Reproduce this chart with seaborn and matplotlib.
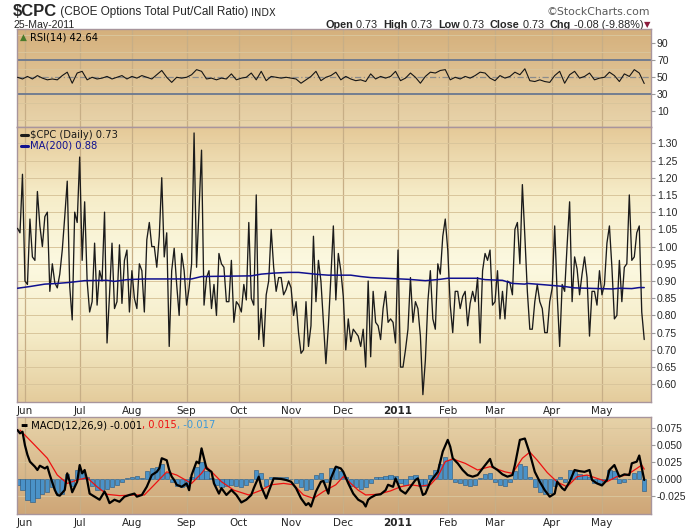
import numpy as np
import pandas as pd
import matplotlib
matplotlib.use("Agg")
import matplotlib.pyplot as plt
from matplotlib.colors import LinearSegmentedColormap
from matplotlib.ticker import FormatStrFormatter
import seaborn as sns

# ─────────────────────────────────────────────────────────────
# DATA (one value per trading day)
# ─────────────────────────────────────────────────────────────
cpc = [
    1.053, 1.04, 1.21, 0.90, 0.89, 1.08, 0.97, 0.96, 1.16, 1.06,
    1.00, 1.087, 1.10, 0.87, 0.95, 0.895, 0.88, 0.92, 0.99, 1.087,
    1.19, 0.884, 0.787, 1.10, 1.07, 1.26, 0.96, 1.13, 0.90, 0.81,
    0.84, 1.01, 0.83, 0.93, 0.90, 1.10, 0.72, 0.86, 1.01, 0.82,
    0.84, 1.005, 0.835, 0.96, 0.99, 0.81, 0.93, 0.85, 0.82, 0.95,
    0.93, 0.81, 1.02, 1.07, 1.00, 1.00, 0.94, 1.03, 1.20, 0.97,
    1.04, 0.71, 0.93, 0.995, 0.89, 0.80, 0.98, 0.93, 0.83, 0.88,
    0.95, 1.33, 0.94, 1.11, 1.28, 0.83, 0.91, 0.93, 0.82, 0.89,
    0.80, 0.98, 0.95, 0.94, 0.84, 0.84, 0.96, 0.78, 0.84, 0.83,
    0.81, 0.89, 0.845, 1.07, 0.85, 0.83, 1.15, 0.73, 0.82, 0.71,
    0.86, 0.90, 1.05, 0.94, 0.87, 0.91, 0.91, 0.86, 0.875, 0.90,
    0.88, 0.80, 0.84, 0.75, 0.69, 0.70, 0.84, 0.71, 0.77, 1.03,
    0.84, 0.96, 0.90, 0.78, 0.66, 0.77, 0.91, 1.06, 0.845, 0.98,
    0.93, 0.855, 0.70, 0.79,
    0.724, 0.76, 0.75, 0.74, 0.71, 0.76, 0.65, 0.90, 0.68, 0.87,
    0.78, 0.77, 0.73, 0.82, 0.87, 0.78, 0.79, 0.78, 0.72, 0.99,
    0.65, 0.65, 0.70, 0.76, 0.91, 0.78, 0.84, 0.82, 0.74, 0.57,
    0.67, 0.84, 0.93, 0.79, 0.76, 0.95, 0.92, 1.03, 1.08, 0.99,
    0.83, 0.75, 0.87, 0.87, 0.82, 0.855, 0.87, 0.77, 0.835, 0.87,
    0.84, 0.91, 0.72, 0.93, 0.98, 0.96, 0.99, 0.83, 0.84, 0.93,
    0.79, 0.87, 0.79, 0.90, 0.895, 0.86, 1.05, 1.07, 0.95, 1.18,
    1.03, 0.87, 0.76, 0.76, 0.84, 0.89, 0.84, 0.82, 0.75, 0.75,
    0.84, 0.88, 1.06, 0.86, 0.71, 0.89, 0.87, 1.005, 1.13, 0.84,
    0.97, 0.935, 0.86, 0.92, 0.97, 0.91, 0.74, 0.87, 0.87, 0.83,
    0.93, 0.86, 0.89, 1.01, 1.06, 0.94, 0.79, 0.80, 0.96, 0.84,
    0.94, 0.95, 1.15, 0.96, 0.97, 1.04, 1.06, 0.81, 0.73,
]

# 200-day moving average, sampled on these trading-day numbers
ma_day = [0, 5, 11, 16, 21, 27, 36, 39, 44, 51, 70, 74, 94, 98, 103, 109, 113,
          117, 121, 125, 134, 138, 142, 148, 157, 164, 170, 173, 185, 188, 195,
          199, 204, 205, 212, 220, 224, 239, 242, 247, 250, 252]
ma200 = [0.879, 0.884, 0.891, 0.893, 0.896, 0.901, 0.902, 0.899, 0.904, 0.906,
         0.906, 0.913, 0.915, 0.920, 0.923, 0.925, 0.925, 0.922, 0.919, 0.917,
         0.917, 0.913, 0.910, 0.908, 0.905, 0.901, 0.905, 0.908, 0.908, 0.904,
         0.902, 0.893, 0.891, 0.893, 0.889, 0.884, 0.880, 0.877, 0.879, 0.878,
         0.881, 0.881]

# RSI(14), every second trading day
rsi = [
    50, 48, 51, 48, 52, 49, 47, 48, 47, 52,
    56, 43, 55, 57, 47, 50, 48, 49, 51, 48,
    50, 52, 48, 51, 49, 52, 50, 48, 53, 58,
    50, 44, 50, 49, 50, 53, 59, 57, 48, 49,
    47, 49, 48, 54, 47, 49, 50, 55, 47, 57,
    46, 51, 50, 49, 50, 49, 48, 43, 47, 51,
    57, 46, 50, 52, 56, 47, 51, 48, 46, 47,
    45, 54, 48, 51, 49, 51, 57, 46, 49, 55,
    50, 43, 51, 56, 55, 58, 59, 47, 50, 48,
    51, 49, 52, 56, 55, 49, 46, 52, 49, 51,
    56, 53, 60, 46, 45, 47, 45, 44, 52, 57,
    43, 53, 57, 49, 51, 55, 47, 49, 50, 56,
    52, 45, 54, 51, 59, 55, 42.64,
]

# MACD(12,26,9) line and signal line, sampled on trading-day numbers
macd_day = [0, 1, 2, 3, 4, 5, 7, 8, 9, 11, 12, 13, 15, 16, 17, 19, 20, 21, 22,
            24, 25, 26, 27, 28, 29, 31, 33, 35, 36, 37, 39, 41, 43, 45, 47, 48,
            50, 52, 54, 56, 57, 58, 60, 61, 62, 63, 64, 66, 68, 69, 70, 72, 73,
            74, 75, 76, 78, 79, 81, 82, 84, 86, 88, 90, 92, 94, 95, 97, 98, 100,
            101, 103, 106, 108, 110, 112, 114, 116, 117, 118, 120, 122, 123, 125,
            126, 128, 130, 131, 133, 135, 137, 139, 140, 141, 142, 144, 146, 148,
            149, 151, 152, 154, 156, 158, 160, 161, 163, 164, 166, 167, 169, 171,
            173, 174, 175, 177, 179, 181, 183, 185, 187, 190, 191, 193, 195, 197,
            199, 200, 202, 204, 206, 208, 210, 212, 214, 216, 217, 219, 220, 222,
            224, 226, 228, 230, 231, 233, 235, 237, 238, 240, 242, 244, 246, 247,
            249, 250, 252]
macd = [0.0725, 0.0676, 0.070, 0.050, 0.036, 0.026, 0.0186, 0.0137, 0.020, 0.016,
        0.0186, 0.0063, -0.0157, -0.023, -0.024, -0.0157, 0.0088, -0.0035, -0.019,
        -0.0035, 0.021, 0.0088, 0.0137, -0.001, -0.021, -0.0255, -0.030, -0.018,
        -0.0255, -0.035, -0.030, -0.033, -0.0255, -0.023, -0.021, -0.0255, -0.023,
        -0.0108, 0.0063, 0.011, 0.016, 0.031, 0.028, 0.0137, 0.0039, -0.001, -0.008,
        -0.011, -0.006, -0.016, 0.0063, 0.026, 0.0235, 0.0455, 0.031, 0.016, 0.011,
        -0.006, -0.021, -0.013, -0.023, -0.0157, -0.023, -0.034, -0.030, -0.023,
        -0.013, 0.0039, -0.0108, -0.028, -0.018, 0.0014, 0.0005, -0.001, -0.0035,
        -0.013, -0.028, -0.038, -0.035, -0.040, -0.018, -0.0035, -0.0025, -0.021,
        0.0014, 0.0186, 0.016, 0.011, -0.006, -0.021, -0.030, -0.034, -0.040, -0.030,
        -0.027, -0.023, -0.022, -0.016, -0.008, -0.011, 0.0014, -0.016, -0.021,
        -0.011, -0.001, 0.0014, -0.023, -0.021, -0.0035, 0.0014, 0.011, 0.041, 0.058,
        0.048, 0.031, 0.0235, 0.0137, 0.0063, 0.0039, 0.0063, 0.016, 0.030, 0.0186,
        0.0137, 0.0073, 0.0039, 0.0063, 0.021, 0.058, 0.060, 0.038, 0.011, -0.0035,
        -0.016, -0.0255, -0.021, -0.0035, -0.013, -0.016, -0.0035, 0.0137, 0.012,
        0.011, 0.0137, -0.001, -0.006, -0.009, -0.001, 0.0137, 0.021, 0.0039, 0.0073,
        0.0063, 0.0235, 0.026, 0.035, -0.001]

signal_day = [1, 7, 12, 16, 20, 24, 28, 32, 36, 41, 47, 51, 55, 60, 64, 70, 74,
              76, 82, 87, 93, 98, 102, 107, 111, 115, 119, 123, 128, 131, 134,
              137, 140, 145, 150, 154, 158, 162, 166, 169, 172, 175, 180, 185,
              190, 196, 199, 203, 206, 209, 213, 217, 221, 225, 229, 233, 237,
              241, 245, 249, 251, 252]
signal = [0.0725, 0.050, 0.031, 0.0063, -0.006, -0.001, 0.0024, -0.011, -0.022,
          -0.024, -0.023, -0.023, -0.008, 0.011, 0.0063, -0.006, 0.0088, 0.0186,
          -0.0035, -0.016, -0.023, -0.016, -0.008, -0.006, -0.008, -0.023, -0.028,
          -0.018, -0.008, 0.004, -0.006, -0.016, -0.023, -0.022, -0.017, -0.011,
          -0.008, -0.010, -0.008, 0.004, 0.026, 0.030, 0.0235, 0.0137, 0.0186,
          0.011, 0.0088, 0.031, 0.040, 0.028, 0.010, -0.004, -0.011, 0.0039,
          0.0063, 0.0014, -0.0035, 0.0039, 0.0063, 0.016, 0.021, 0.015]

# MACD histogram, every second trading day
hist = [
    -0.008, -0.015, -0.030, -0.033, -0.027, -0.022, -0.018, -0.012, -0.020, -0.022,
    0.008, -0.010, 0.014, 0.012, 0.004, -0.010, -0.015, -0.016, -0.014, -0.012,
    -0.008, -0.004, 0.002, 0.004, 0.005, 0.002, 0.012, 0.016, 0.018, 0.022,
    0.010, -0.004, -0.010, -0.012, -0.010, 0.004, 0.018, 0.026, 0.012, 0.002,
    -0.008, -0.012, -0.010, -0.008, -0.010, -0.012, -0.008, -0.004, 0.014, 0.010,
    -0.010, 0.004, 0.003, 0.004, 0.003, 0.001, -0.006, -0.012, -0.016, -0.014,
    0.006, 0.010, -0.004, 0.016, 0.018, 0.012, 0.004, -0.010, -0.012, -0.014,
    -0.012, -0.006, 0.003, 0.004, 0.005, 0.006, 0.005, -0.006, -0.008, 0.005,
    0.006, -0.010, -0.010, 0.006, 0.014, 0.022, 0.033, 0.028, -0.004, -0.006,
    -0.008, -0.010, -0.008, 0.002, 0.008, 0.010, -0.004, -0.008, -0.010, -0.004,
    0.012, 0.022, 0.020, 0.004, -0.012, -0.018, -0.022, -0.020, -0.010, 0.003,
    -0.004, 0.014, 0.012, 0.008, 0.007, 0.004, -0.006, -0.006, -0.003, 0.014,
    0.012, -0.006, -0.004, 0.001, 0.010, 0.012, -0.017,
]

holidays = ["2010-05-31", "2010-07-05", "2010-09-06", "2010-11-25",
            "2010-12-24", "2011-01-17", "2011-02-21", "2011-04-22"]

# ─────────────────────────────────────────────────────────────
# TRADING-DAY AXIS (no weekend gaps, like StockCharts)
# ─────────────────────────────────────────────────────────────
cal = pd.bdate_range("2010-05-26", "2011-05-25", freq="C", holidays=holidays)
cal = cal[-len(cpc):]
price = pd.DataFrame({"day": np.arange(len(cpc)), "date": cal, "cpc": cpc})
ma_df = pd.DataFrame({"day": ma_day, "ma": ma200})
rsi_df = pd.DataFrame({"day": price["day"].iloc[::2].values, "rsi": rsi})
hist_df = pd.DataFrame({"day": price["day"].iloc[::2].values, "hist": hist})

first_days = price.groupby(price["date"].dt.to_period("M"))["day"].min().iloc[1:]
month_pos = first_days.values
month_lab = [p.strftime("%b") if p.month != 1 else str(p.year) for p in first_days.index]

# ─────────────────────────────────────────────────────────────
# STYLE
# ─────────────────────────────────────────────────────────────
sns.set_style("white")
plt.rcParams["font.family"] = ["DejaVu Sans"]

SPINE = "#a8959c"
GRID_V = "#c7ae86"
GRID_H = "#d9c59b"

fig = plt.figure(figsize=(7, 5.3), dpi=100)
fig.patch.set_facecolor("white")

W, H = 700.0, 530.0
def panel(top, bottom):
    return [17 / W, 1 - bottom / H, (650.7 - 17) / W, (bottom - top) / H]

ax_rsi = fig.add_axes(panel(29, 127))
ax_px = fig.add_axes(panel(127, 401.7))
ax_macd = fig.add_axes(panel(416.7, 514))

def shade(ax, colors):
    cmap = LinearSegmentedColormap.from_list("bg", colors)
    ax.imshow(np.linspace(0, 1, 256).reshape(-1, 1), cmap=cmap, aspect="auto",
              extent=(0, 1, 0, 1), transform=ax.transAxes, zorder=0,
              interpolation="bilinear")

shade(ax_rsi, ["#d5b07c", "#e8d4ab"])
shade(ax_px, ["#e5c998", "#f6edc9", "#fcf9e1", "#f5ecc8", "#e4cc9c"])
shade(ax_macd, ["#e7d3a9", "#cea677"])

xlim = (-0.2, 254.6)
for ax in (ax_rsi, ax_px, ax_macd):
    for s in ax.spines.values():
        s.set_color(SPINE)
        s.set_linewidth(1.0)
    ax.set_xticks(month_pos)
    ax.grid(True, axis="x", color=GRID_V, linewidth=0.9, zorder=1)
    ax.yaxis.tick_right()
    ax.tick_params(axis="y", direction="out", length=3, width=0.8,
                   color="#9a9a9a", labelsize=7.5, pad=1.5)
    ax.tick_params(axis="x", length=0, pad=3, labelsize=7.5)
    for lab in ax.get_yticklabels():
        lab.set_family("Liberation Sans")
    ax.set_axisbelow(True)

# ─────────────────────────────────────────────────────────────
# RSI PANEL
# ─────────────────────────────────────────────────────────────
ax_rsi.set_yticks(np.arange(0, 101, 10), minor=True)
ax_rsi.grid(True, axis="y", which="minor", color=GRID_H, linewidth=0.7, zorder=1)
ax_rsi.axhline(70, color="#6a7890", linewidth=1.3, zorder=2)
ax_rsi.axhline(30, color="#6a7890", linewidth=1.3, zorder=2)
ax_rsi.axhline(50, color="#8c8c8c", linewidth=0.9, linestyle=(0, (5, 2, 1, 2)), zorder=2)
sns.lineplot(data=rsi_df, x="day", y="rsi", ax=ax_rsi, color="#151515",
             linewidth=0.8, zorder=3)
ax_rsi.set_ylim(-8.5, 106.8)
ax_rsi.set_yticks([10, 30, 50, 70, 90])
ax_rsi.tick_params(axis="y", which="minor", length=0)
ax_rsi.set_xticklabels([])
ax_rsi.text(0.004, 0.965, "\u25B2", transform=ax_rsi.transAxes, va="top",
            fontsize=6.5, color="#4a7a2a")
ax_rsi.text(0.02, 0.965, "RSI(14) 42.64", transform=ax_rsi.transAxes, va="top",
            fontsize=7.2, color="black")

# ─────────────────────────────────────────────────────────────
# PRICE PANEL
# ─────────────────────────────────────────────────────────────
px_ticks = np.round(np.arange(0.60, 1.301, 0.05), 2)
ax_px.set_yticks(px_ticks)
ax_px.grid(True, axis="y", color=GRID_H, linewidth=0.7, zorder=1)
sns.lineplot(data=price, x="day", y="cpc", ax=ax_px, color="#1b1b1b",
             linewidth=0.95, zorder=3, label=r"\$CPC (Daily) 0.73")
sns.lineplot(data=ma_df, x="day", y="ma", ax=ax_px, color="#10108f",
             linewidth=1.1, zorder=4, label="MA(200) 0.88")
ax_px.set_ylim(0.5495, 1.3473)
ax_px.yaxis.set_major_formatter(FormatStrFormatter("%.2f"))
leg = ax_px.legend(loc="upper left", frameon=False, fontsize=7.2,
                   handlelength=0.7, handletextpad=0.3, labelspacing=0.05,
                   borderaxespad=0.15, borderpad=0.2, labelcolor="linecolor")
for h in leg.legend_handles:
    h.set_linewidth(2.2)

# ─────────────────────────────────────────────────────────────
# MACD PANEL
# ─────────────────────────────────────────────────────────────
ax_macd.set_yticks([-0.025, 0.0, 0.025, 0.050, 0.075])
ax_macd.grid(True, axis="y", color=GRID_H, linewidth=0.7, zorder=1)
ax_macd.bar(hist_df["day"], hist_df["hist"], width=1.7, color="#4a92c8",
            edgecolor="#24557f", linewidth=0.4, zorder=2)
sns.lineplot(x=signal_day, y=signal, ax=ax_macd, color="#ee1111",
             linewidth=0.9, zorder=3)
sns.lineplot(x=macd_day, y=macd, ax=ax_macd, color="black",
             linewidth=1.6, zorder=4)
ax_macd.set_ylim(-0.051, 0.0921)
ax_macd.yaxis.set_major_formatter(FormatStrFormatter("%.3f"))
t0 = ax_macd.text(0.006, 0.955, "\u25AC", transform=ax_macd.transAxes, va="top",
                  fontsize=5.5, color="black")
t1 = ax_macd.annotate(" MACD(12,26,9) -0.001", xy=(1, 0), xycoords=t0,
                      va="bottom", fontsize=7.2, color="black")
t2 = ax_macd.annotate(", 0.015", xy=(1, 0), xycoords=t1, va="bottom",
                      fontsize=7.2, color="#ee1111")
ax_macd.annotate(", -0.017", xy=(1, 0), xycoords=t2, va="bottom",
                 fontsize=7.2, color="#3f9ad8")

for ax in (ax_rsi, ax_px, ax_macd):
    ax.set_xlim(*xlim)
    ax.set_xlabel("")
    ax.set_ylabel("")

for ax in (ax_px, ax_macd):
    ax.set_xticklabels(month_lab)
    for lab in ax.get_xticklabels():
        if lab.get_text().isdigit():
            lab.set_fontweight("bold")

# ─────────────────────────────────────────────────────────────
# HEADER
# ─────────────────────────────────────────────────────────────
hdr = fig.add_axes([0, 0, 1, 1], zorder=-1)
hdr.axis("off")
h1 = hdr.text(13 / W, 1 - 15.5 / H, r"\$CPC", fontsize=12, fontweight="bold",
              family="Liberation Sans", va="baseline")
h2 = hdr.annotate(" (CBOE Options Total Put/Call Ratio)", xy=(1, 0), xycoords=h1,
                  va="bottom", fontsize=8.5, family="Liberation Sans")
hdr.annotate(" INDX", xy=(1, 0), xycoords=h2, va="bottom", fontsize=7)
hdr.text(13 / W, 1 - 27.8 / H, "25-May-2011", fontsize=7.6,
         family="Liberation Sans", va="baseline")
hdr.text(650 / W, 1 - 15 / H, "\u00A9StockCharts.com", fontsize=7.8,
         family="DejaVu Sans", color="#5a5a5a", ha="right", va="baseline")

quote = [("Open", True), (" 0.73  ", False), ("High", True), (" 0.73  ", False),
         ("Low", True), (" 0.73  ", False), ("Close", True), (" 0.73  ", False),
         ("Chg", True), (" -0.08 (-9.88%)", False)]
prev = hdr.text(650 / W, 1 - 27.5 / H, "\u25BC", fontsize=6, color="#8c1c3c",
                ha="right", va="baseline")
for txt, bold in reversed(quote):
    prev = hdr.annotate(txt, xy=(0, 0), xycoords=prev, ha="right", va="bottom",
                        fontsize=7.8, family="Liberation Sans",
                        fontweight="bold" if bold else "normal")

fig.savefig("out.png", dpi=100, facecolor="white")
